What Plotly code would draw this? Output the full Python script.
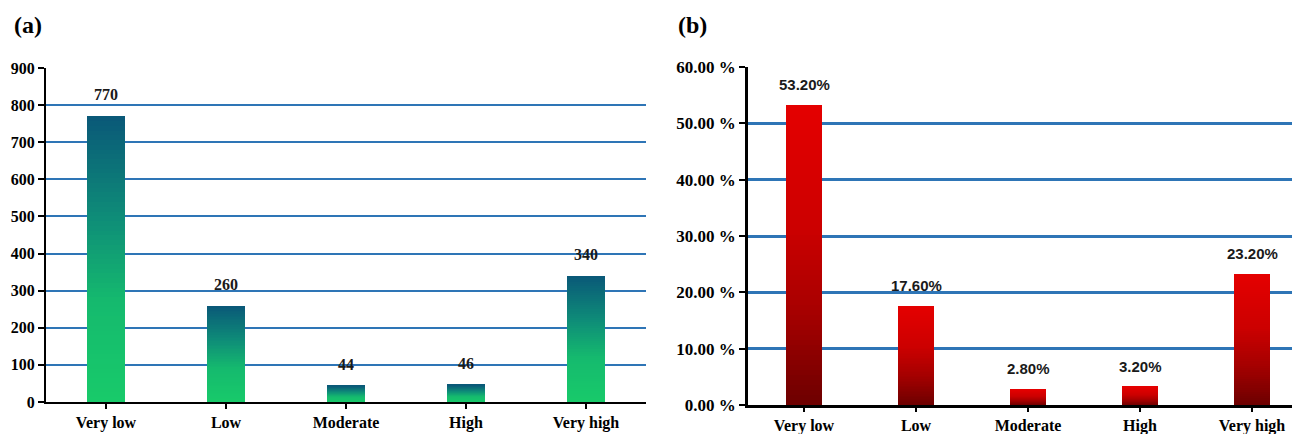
import plotly.graph_objects as go

categories = ["Very low", "Low", "Moderate", "High", "Very high"]
counts = [770, 260, 44, 46, 340]
percents = [53.20, 17.60, 2.80, 3.20, 23.20]
count_ticks = [0, 100, 200, 300, 400, 500, 600, 700, 800, 900]
pct_ticks = [0, 10, 20, 30, 40, 50, 60]
pct_ticktext = ["0.00 %", "10.00 %", "20.00 %", "30.00 %", "40.00 %", "50.00 %", "60.00 %"]

N_SEG = 60
OFF = 8  # page body margin offset


def lerp(c1, c2, t):
    return "rgb(%d,%d,%d)" % tuple(round(a + (b - a) * t) for a, b in zip(c1, c2))


def grad(stops, t):
    for i in range(len(stops) - 1):
        p0, c0 = stops[i]
        p1, c1 = stops[i + 1]
        if p0 <= t <= p1:
            return lerp(c0, c1, (t - p0) / (p1 - p0) if p1 > p0 else 0)
    return lerp(stops[-1][1], stops[-1][1], 0)


green_stops = [(0.0, (24, 202, 106)), (0.35, (21, 186, 110)), (0.65, (14, 140, 120)), (1.0, (10, 88, 120))]
red_stops = [(0.0, (108, 0, 0)), (0.3, (165, 0, 0)), (0.6, (205, 0, 0)), (1.0, (228, 0, 0))]

fig = go.Figure()

for k in range(N_SEG):
    t = (k + 0.5) / N_SEG
    fig.add_trace(go.Bar(
        x=categories, y=[v / N_SEG for v in counts], width=0.31,
        marker=dict(color=grad(green_stops, t), line=dict(width=0)),
        xaxis="x", yaxis="y", showlegend=False, hoverinfo="skip"))
    fig.add_trace(go.Bar(
        x=categories, y=[v / N_SEG for v in percents], width=0.32,
        marker=dict(color=grad(red_stops, t), line=dict(width=0)),
        xaxis="x2", yaxis="y2", showlegend=False, hoverinfo="skip"))

annotations = []
for c, v in zip(categories, counts):
    annotations.append(dict(
        x=c, y=v, xref="x", yref="y", text=str(v), showarrow=False,
        yanchor="bottom", yshift=11,
        font=dict(family="Liberation Serif", size=16, color="#1a1a1a", weight="bold")))
for c, v in zip(categories, percents):
    annotations.append(dict(
        x=c, y=v, xref="x2", yref="y2", text="%.2f%%" % v, showarrow=False,
        yanchor="bottom", yshift=10,
        font=dict(family="Liberation Sans", size=15, color="#1a1a1a", weight="bold")))

annotations += [
    dict(text="(a)", x=(12 - OFF) / 1300, y=1 - (25 - OFF) / 434, xref="paper", yref="paper",
         xanchor="left", yanchor="middle", showarrow=False,
         font=dict(family="Liberation Serif", size=24, color="black", weight="bold")),
    dict(text="(b)", x=(676 - OFF) / 1300, y=1 - (25 - OFF) / 434, xref="paper", yref="paper",
         xanchor="left", yanchor="middle", showarrow=False,
         font=dict(family="Liberation Serif", size=24, color="black", weight="bold")),
]

axis_font = dict(family="Liberation Serif", size=16, color="black", weight="bold")
axis_font_b = dict(family="Liberation Serif", size=17, color="black", weight="bold")
xfont_b = dict(family="Liberation Serif", size=16, color="black", weight="bold")
grid_color = "#2e75b6"

fig.update_layout(
    width=1300, height=434,
    margin=dict(l=0, r=0, t=0, b=0, autoexpand=False),
    paper_bgcolor="white", plot_bgcolor="white",
    barmode="stack",
    xaxis=dict(domain=[(46 - OFF) / 1300, (646 - OFF) / 1300], range=[-0.5, 4.5], anchor="y",
               showline=True, linecolor="black", linewidth=2,
               ticks="outside", ticklen=5, tickwidth=2, tickcolor="black",
               tickfont=axis_font, showgrid=False, automargin=False),
    yaxis=dict(domain=[(434 - 402 + OFF) / 434, (434 - 68 + OFF) / 434], range=[0, 900], anchor="x",
               tickvals=count_ticks, showline=True, linecolor="black", linewidth=2,
               ticks="outside", ticklen=6, tickwidth=2, tickcolor="black",
               tickfont=axis_font, showgrid=True, gridcolor=grid_color, gridwidth=1.5,
               zeroline=False, automargin=False),
    xaxis2=dict(domain=[(748 - OFF) / 1300, 1.0], range=[-0.5, 4.5], anchor="y2",
                showline=True, linecolor="black", linewidth=2.5,
                ticks="outside", ticklen=4, tickwidth=2, tickcolor="black",
                tickfont=xfont_b, showgrid=False, automargin=False),
    yaxis2=dict(domain=[(434 - 405 + OFF) / 434, (434 - 67 + OFF) / 434], range=[0, 60], anchor="x2",
                tickvals=pct_ticks, ticktext=pct_ticktext,
                showline=True, linecolor="black", linewidth=2.5,
                ticks="outside", ticklen=6, tickwidth=2, tickcolor="black",
                tickfont=axis_font_b,
                showgrid=True, gridcolor=grid_color, gridwidth=2.5, zeroline=False,
                automargin=False),
    annotations=annotations,
)

fig.write_html("out.html")
